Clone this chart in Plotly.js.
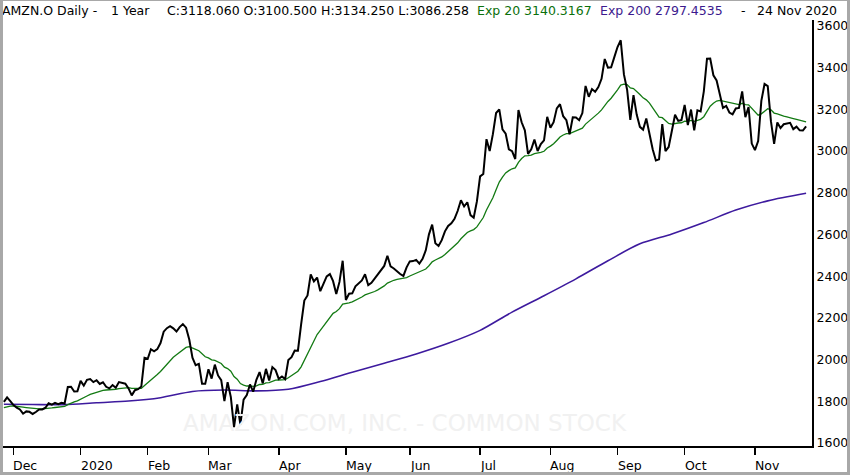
<!DOCTYPE html>
<html>
<head>
<meta charset="utf-8">
<script src="https://cdn.plot.ly/plotly-3.0.1.min.js"></script>
<style>
html,body{margin:0;padding:0;background:#fff;}
#frame{width:850px;height:475px;box-sizing:border-box;border-style:solid;border-color:#a8a8a8;border-width:1px 3px 3px 3px;background:#fff;}
#chart{width:844px;height:471px;}
</style>
</head>
<body>
<div id="frame"><div id="chart"></div></div>
<script>
// Daily closes, one per trading day, from 26 Nov 2019 to 24 Nov 2020
const closes = [
1796.94,1818.51,1800.80,
1781.60,1769.96,1760.69,1740.48,1751.60,1749.51,1739.21,1748.72,1760.33,1760.94,1769.21,1790.66,1784.03,1792.28,1786.50,1793.00,1789.21,1868.77,1869.80,1846.89,1847.84,
1898.01,1874.97,1902.88,1906.86,1891.97,1901.05,1883.16,1891.30,1869.44,1862.02,1877.94,1864.72,1892.00,1887.46,1884.58,1861.64,1828.34,1853.25,1858.00,1870.68,2008.72,
2004.20,2049.67,2039.87,2050.23,2079.28,2133.91,2150.80,2160.00,2149.87,2134.87,2155.67,2170.22,2153.10,2095.97,2009.29,1972.74,1979.59,1884.30,1883.75,
1953.95,1908.99,1975.83,1924.03,1901.09,1800.61,1891.82,1820.86,1676.61,1785.00,1689.15,1807.84,1830.00,1880.93,1846.09,1902.83,1940.10,1885.84,1955.49,1900.10,1963.95,1949.72,
1907.70,1918.83,1906.59,1997.59,2011.60,2043.00,2042.76,2168.87,2283.32,2307.68,2408.19,2375.00,2393.61,2328.12,2363.49,2399.45,2410.22,2376.00,2314.08,2372.71,2474.00,
2286.04,2315.99,2317.80,2351.26,2367.61,2379.61,2409.00,2356.95,2367.92,2388.85,2409.78,2426.26,2449.33,2497.94,2446.74,2436.88,2421.86,2410.39,2401.10,2442.37,
2471.04,2472.41,2478.40,2460.60,2483.00,2524.06,2600.86,2647.45,2557.96,2545.02,2572.68,2615.27,2640.98,2653.98,2675.01,2713.82,2764.41,2734.40,2754.58,2692.87,2680.38,2758.82,
2878.70,2890.30,3057.04,3000.12,3081.11,3182.63,3200.00,3104.00,3084.00,3008.87,2999.90,2961.97,3196.84,3138.29,3099.91,2986.55,3008.91,3055.21,3000.33,3033.53,3051.88,3164.68,
3111.89,3138.83,3205.03,3225.00,3167.46,3148.16,3080.67,3162.24,3161.02,3148.02,3182.41,3312.49,3260.48,3297.37,3284.72,3307.46,3346.49,3441.85,3400.00,3401.80,3450.96,
3499.12,3531.45,3368.00,3294.62,3149.84,3268.61,3175.11,3116.22,3102.97,3156.13,3078.10,3008.73,2954.91,2960.47,3128.99,2999.86,3019.79,3095.13,3174.05,3144.88,3148.73,
3221.26,3125.00,3199.20,3099.96,3195.69,3190.55,3286.65,3442.93,3443.63,3363.71,3338.65,3272.71,3207.21,3217.01,3184.94,3176.40,3204.40,3207.04,3286.33,3162.78,3211.01,3036.15,
3004.48,3048.41,3241.16,3322.00,3311.37,3143.74,3035.02,3137.39,3110.28,3128.81,3131.06,3135.66,3105.46,3117.02,3099.40,3098.39,3118.06
];

// Exp 20 (green) read per trading day
const exp20 = [
1770.0,1774.6,1777.1,1777.5,1776.8,1775.3,1772.0,1770.0,1768.1,1765.3,1763.7,1763.4,1763.2,1763.8,1766.3,1768.0,1770.3,1771.9,1773.9,1775.3,
1784.2,1792.4,1797.6,1802.4,1811.5,1817.5,1825.6,1833.4,1838.9,1844.9,1848.5,1852.6,1854.2,1854.9,1857.1,1857.8,1861.1,1863.6,1865.6,1865.2,
1861.7,1860.9,1860.6,1861.6,1875.6,1887.8,1903.2,1916.2,1929.0,1943.3,1961.4,1979.5,1996.6,2011.2,2023.0,2035.6,2048.4,2058.4,2062.0,2057.0,
2049.0,2042.4,2027.3,2013.6,2007.9,1998.5,1996.4,1989.5,1981.1,1963.9,1957.0,1944.1,1918.6,1905.9,1885.2,1877.9,1873.3,1874.0,1871.4,1874.4,
1880.6,1881.1,1888.2,1889.3,1896.4,1901.5,1902.1,1903.7,1904.0,1912.9,1922.3,1933.8,1944.1,1965.5,1995.8,2025.5,2061.9,2091.7,2120.5,2140.2,
2161.5,2184.1,2205.7,2221.9,2230.7,2244.2,2266.1,2268.0,2272.5,2276.8,2283.9,2291.9,2300.3,2310.6,2315.0,2320.1,2326.6,2334.5,2343.3,2353.4,
2367.1,2374.7,2380.6,2384.6,2387.0,2388.4,2393.5,2400.9,2407.7,2414.4,2418.8,2424.9,2434.4,2450.2,2469.0,2477.5,2483.9,2492.4,2504.1,2517.1,
2530.1,2543.9,2560.1,2579.6,2594.3,2609.6,2617.5,2623.5,2636.4,2659.5,2681.4,2717.2,2744.1,2776.2,2814.9,2851.6,2875.6,2895.4,2906.2,2915.1,
2919.6,2946.0,2964.3,2977.2,2978.1,2981.0,2988.1,2989.2,2993.4,2999.0,3014.8,3024.0,3035.0,3051.2,3067.7,3077.2,3084.0,3083.6,3091.1,3097.8,
3102.6,3110.2,3129.4,3141.9,3156.7,3168.9,3182.1,3197.7,3221.0,3238.0,3253.6,3272.4,3294.0,3316.6,3321.5,3318.9,3302.8,3299.6,3287.7,3271.4,
3255.4,3245.9,3229.9,3208.9,3184.7,3163.3,3160.1,3144.8,3132.9,3129.3,3133.6,3134.7,3136.0,3144.1,3142.3,3147.7,3143.2,3148.2,3152.2,3165.0,
3191.5,3215.5,3229.6,3240.0,3243.1,3239.7,3237.5,3232.5,3227.2,3225.0,3223.3,3229.3,3223.0,3221.8,3204.1,3185.1,3172.1,3178.7,3192.3,3203.6,
3197.9,3182.4,3178.1,3171.7,3167.6,3164.1,3161.4,3156.1,3152.4,3147.3,3142.7,3140.3
];

// Exp 200 (purple) read at every tenth trading day
const exp200Day = [0,9,19,29,39,49,59,69,79,89,99,109,119,129,139,149,159,169,179,189,199,209,219,229,239,251];
const exp200 = [1786.1,1784.6,1783.9,1793.1,1801.1,1817.3,1847.2,1854.0,1850.1,1858.0,1895.1,1939.6,1982.5,2026.8,2078.0,2140.1,2227.8,2306.4,2387.3,2474.0,2555.1,2602.3,2657.2,2717.0,2761.4,2797.5];

// Month ticks: trading-day index of first session of each month
const monthTickDay = [3,24,45,64,86,107,127,149,171,192,213,235];
const monthTickText = ["Dec","2020","Feb","Mar","Apr","May","Jun","Jul","Aug","Sep","Oct","Nov"];
const priceTicks = [1600,1800,2000,2200,2400,2600,2800,3000,3200,3400,3600];

// Header pieces
const headerParts = [
  {text:"AMZN.O Daily -", color:"#000000", left:3},
  {text:"1 Year", color:"#000000", left:112},
  {text:"C:3118.060 O:3100.500 H:3134.250 L:3086.258", color:"#000000", left:168},
  {text:"Exp 20 3140.3167", color:"#0b700b", left:478},
  {text:"Exp 200 2797.4535", color:"#3c1a8e", left:601},
  {text:"-", color:"#000000", left:742},
  {text:"24 Nov 2020", color:"#000000", left:758}
];
const watermark = "AMAZON.COM, INC. - COMMON STOCK";

const FONT = "DejaVu Sans, Verdana, sans-serif";
const dayIndex = closes.map((_, i) => i);

const traces = [
  {x: exp200Day, y: exp200, type:"scatter", mode:"lines", line:{color:"#3d1a9e", width:1.6, shape:"spline", smoothing:0.8}, hoverinfo:"skip"},
  {x: dayIndex, y: exp20, type:"scatter", mode:"lines", line:{color:"#137a13", width:1.3}, hoverinfo:"skip"},
  {x: dayIndex, y: closes, type:"scatter", mode:"lines", line:{color:"#000000", width:2}, hoverinfo:"skip"}
];

const annotations = [];
headerParts.forEach(p => {
  annotations.push({
    xref:"paper", yref:"paper", x:0, y:1, xanchor:"left", yanchor:"middle",
    xshift: p.left - 3 - 2, yshift: 9.5, borderpad:0,
    text: p.text, showarrow:false,
    font:{family:FONT, size:12.5, color:p.color}
  });
});
monthTickDay.forEach((d, i) => {
  annotations.push({
    xref:"x", yref:"paper", x:d, y:0, xanchor:"left", yanchor:"middle",
    xshift:-2, yshift:-19,
    text: monthTickText[i], showarrow:false,
    font:{family:FONT, size:12.5, color:"#000"}
  });
});
annotations.push({
  xref:"paper", yref:"paper", x:0.497, y:0.054, xanchor:"center", yanchor:"middle",
  text: watermark, showarrow:false,
  font:{family:FONT, size:23, color:"#f1f1f1"}
});

const layout = {
  width:844, height:471,
  margin:{l:0, r:35, t:19, b:26, pad:0},
  paper_bgcolor:"#ffffff", plot_bgcolor:"#ffffff",
  showlegend:false,
  xaxis:{
    range:[-0.28, 252.85], showgrid:false, zeroline:false,
    showline:true, linecolor:"#000", linewidth:2,
    tickmode:"array", tickvals:monthTickDay, ticktext:monthTickText,
    showticklabels:false, ticks:"outside", ticklen:7, tickwidth:1.5, tickcolor:"#000"
  },
  yaxis:{
    side:"right", range:[1585.6, 3628.8], showgrid:false, zeroline:false,
    showline:true, linecolor:"#000", linewidth:2, mirror:false,
    tickmode:"array", tickvals:priceTicks, ticks:"",
    tickfont:{family:FONT, size:12.5, color:"#000"}
  },
  annotations: annotations
};

Plotly.newPlot("chart", traces, layout, {staticPlot:true, displayModeBar:false});
</script>
</body>
</html>
